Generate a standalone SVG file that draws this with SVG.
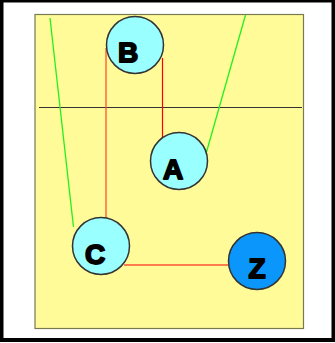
<svg xmlns="http://www.w3.org/2000/svg" width="335" height="343" viewBox="0 0 335 343">
<style>
.node circle{stroke:#333;stroke-width:1.5}
.lt{fill:#99FFFF}
.dk{fill:#0A96FA}
.node text{font-family:"Liberation Sans",Arial,sans-serif;font-weight:bold;font-size:28px;text-anchor:middle;fill:#000;stroke:#000;stroke-width:1.8;stroke-linejoin:round}
.red{stroke:#FF0000;stroke-width:1.2;fill:none}
.org{stroke:#FF5030;stroke-width:1.3;fill:none}
.grn{stroke:#22F022;stroke-width:1.3;fill:none}
</style>
<rect x="0" y="0" width="335" height="342" fill="#000"/>
<rect x="3.5" y="2.5" width="328" height="335.5" fill="#fff"/>
<rect x="35" y="14.5" width="268.5" height="314" fill="#FFFB99" stroke="#7A7A50" stroke-width="1.2"/>
<line x1="39" y1="107.5" x2="302" y2="107.5" stroke="#333" stroke-width="1.2"/>
<g id="connectors">
<line class="grn" x1="50" y1="18" x2="73.5" y2="227"/>
<line class="grn" x1="245.5" y1="15" x2="206.5" y2="152"/>
<line class="red" x1="162.5" y1="58" x2="162.5" y2="143"/>
<line class="org" x1="106" y1="48" x2="106" y2="219"/>
<line class="red" x1="124" y1="265" x2="228" y2="265"/>
</g>
<g id="B" class="node"><circle class="lt" cx="135" cy="45" r="28.5"/><text x="128" y="62">B</text></g>
<g id="A" class="node"><circle class="lt" cx="179" cy="161" r="28.5"/><text x="173" y="179">A</text></g>
<g id="C" class="node"><circle class="lt" cx="101" cy="246" r="28.5"/><text x="95" y="263.5">C</text></g>
<g id="Z" class="node"><circle class="dk" cx="257" cy="261" r="28.5"/><text x="257" y="278">Z</text></g>
</svg>
